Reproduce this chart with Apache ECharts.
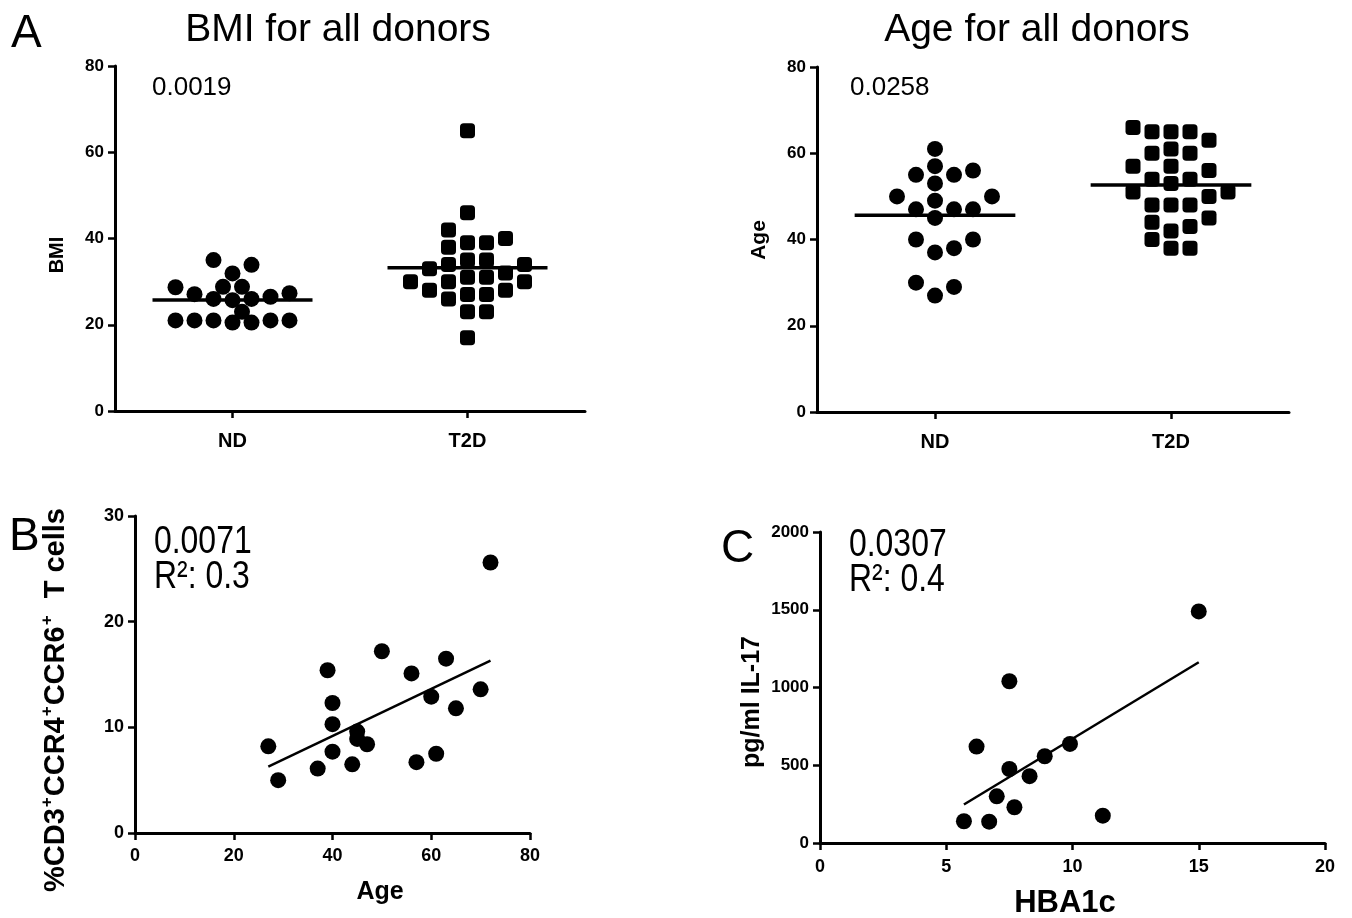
<!DOCTYPE html>
<html>
<head>
<meta charset="utf-8">
<script src="https://cdn.jsdelivr.net/npm/echarts@6/dist/echarts.min.js"></script>
<style>html,body{margin:0;padding:0;background:#fff}#chart{width:1352px;height:918px}</style>
</head>
<body>
<div id="chart"></div>
<script>
// ---------------- data ----------------
const groups = ['ND', 'T2D'];
const bmiND  = [20.5, 20.5, 21, 21, 21, 21, 21, 23, 25.7, 26, 26, 26.5, 27.1, 27.3, 28.7, 28.8, 28.8, 31.9, 33.9, 35];
const bmiT2D = [17, 23, 23, 26, 27, 27, 28, 28, 30, 30, 30, 31, 31, 32, 33, 34, 34, 35, 35, 38, 39, 39, 40, 42, 46, 65];
const ageND  = [27, 29, 30, 37, 38, 40, 40, 45, 47, 47, 47, 49, 50, 50, 53, 55, 55, 56, 57, 61];
const ageT2D = [38, 38, 40, 42, 43, 44, 45, 48, 48, 48, 50, 51, 51, 53, 54, 54, 56, 57, 57, 60, 60, 61, 63, 65, 65, 65, 66];
// panel B
const ageB  = [27, 29, 37, 39, 40, 40, 40, 44, 45, 45, 47, 50, 56, 57, 60, 61, 63, 65, 70, 72];
const cellsB = [8.2, 5.0, 6.1, 15.4, 12.3, 10.3, 7.7, 6.5, 9.6, 8.9, 8.4, 17.2, 15.1, 6.7, 12.9, 7.5, 16.5, 11.8, 13.6, 25.6];
// panel C
const hba1cC = [5.7, 6.2, 6.7, 7.0, 7.5, 7.5, 7.7, 8.3, 8.9, 9.9, 11.2, 15.0];
const il17C  = [140, 620, 137, 300, 1040, 476, 230, 430, 558, 637, 176, 1489];
// annotations
const pBMI = '0.0019', pAge = '0.0258', pB = '0.0071', r2B = '0.3', pC = '0.0307', r2C = '0.4';

// ---------------- layout ----------------
const G = [
  {left: 115, top: 66,  width: 470, height: 345},
  {left: 817, top: 67,  width: 472, height: 345},
  {left: 135, top: 516, width: 395, height: 317},
  {left: 820, top: 532, width: 505, height: 311}
];
const BLACK = '#000';
const SANS = "'Liberation Sans',Arial,sans-serif";

// column-scatter (beeswarm) layout computed from the values
const STEPS = [0, 1, -1, 2, -2, 3, -3, 0.5, -0.5, 1.5, -1.5, 2.5, -2.5, 3.5, -3.5, 4, -4, 4.5, -4.5, 5, -5];
function swarm(values, center, g, yMax, size, spacing) {
  const pyu = g.height / yMax;      // px per y unit
  const pxu = g.width / 2;          // px per x unit (x range 0.5..2.5)
  const thr = size - 2;
  const sorted = values.slice().sort((a, b) => a - b);
  const placed = [];
  const out = [];
  sorted.forEach(v => {
    const yp = v * pyu;
    for (const s of STEPS) {
      const dx = s * spacing;
      if (placed.every(p => Math.hypot(p[0] - dx, p[1] - yp) >= thr)) {
        placed.push([dx, yp]); out.push([center + dx / pxu, v]); break;
      }
    }
  });
  return out;
}
const mean = a => a.reduce((s, v) => s + v, 0) / a.length;
function fit(xs, ys) {
  const mx = mean(xs), my = mean(ys);
  let sxy = 0, sxx = 0;
  xs.forEach((x, i) => { sxy += (x - mx) * (ys[i] - my); sxx += (x - mx) * (x - mx); });
  const b = sxy / sxx, a = my - b * mx;
  const x0 = Math.min(...xs), x1 = Math.max(...xs);
  return [[x0, a + b * x0], [x1, a + b * x1]];
}

function axisCommon(fs, margin) {
  return {
    axisLine: {show: true, onZero: false, lineStyle: {color: BLACK, width: 3}},
    axisTick: {show: true, length: 7, lineStyle: {color: BLACK, width: 2.5}},
    axisLabel: {color: BLACK, fontFamily: SANS, fontWeight: 'bold', fontSize: fs, margin: margin,
      formatter: v => String(v)},
    splitLine: {show: false}
  };
}
function catX(gi) {
  return Object.assign(axisCommon(20, 20), {
    type: 'value', gridIndex: gi, min: 0.5, max: 2.5,
    axisTick: {show: true, length: 7, lineStyle: {color: BLACK, width: 2.5}, customValues: [1, 2]},
    axisLabel: {color: BLACK, fontFamily: SANS, fontWeight: 'bold', fontSize: 20, margin: 20,
      customValues: [1, 2], formatter: v => groups[Math.round(v) - 1] || ''}
  });
}
function valAxis(gi, min, max, interval, fs, margin) {
  return Object.assign(axisCommon(fs, margin), {type: 'value', gridIndex: gi, min, max, interval});
}

const HALF = 80 / 235;   // half-width of mean bar in x units
function meanLine(vals, center, xi) {
  const m = mean(vals);
  return {type: 'line', xAxisIndex: xi, yAxisIndex: xi, data: [[center - HALF, m], [center + HALF, m]],
    showSymbol: false, symbol: 'none', lineStyle: {color: BLACK, width: 3.5}, z: 5, silent: true};
}
function scat(data, xi, symbol, size) {
  return {type: 'scatter', xAxisIndex: xi, yAxisIndex: xi, data, symbol, symbolSize: size,
    itemStyle: {color: BLACK, opacity: 1}, z: 3, silent: true};
}

function txt(x, y, text, font, align, extra) {
  return Object.assign({type: 'text', x, y, silent: true,
    style: {text, font, fill: BLACK, textAlign: align || 'left', textVerticalAlign: 'middle'}}, extra || {});
}

const option = {
  animation: false,
  backgroundColor: '#fff',
  grid: G.map(g => Object.assign({containLabel: false}, g)),
  xAxis: [
    catX(0), catX(1),
    valAxis(2, 0, 80, 20, 18, 14),
    valAxis(3, 0, 20, 5, 18, 15)
  ],
  yAxis: [
    valAxis(0, 0, 80, 20, 17, 11),
    valAxis(1, 0, 80, 20, 17, 11),
    valAxis(2, 0, 30, 10, 18, 11),
    valAxis(3, 0, 2000, 500, 17, 11)
  ],
  series: [
    scat(swarm(bmiND, 1, G[0], 80, 16, 19), 0, 'circle', 16),
    scat(swarm(bmiT2D, 2, G[0], 80, 15, 19), 0, 'roundRect', 15),
    meanLine(bmiND, 1, 0), meanLine(bmiT2D, 2, 0),
    scat(swarm(ageND, 1, G[1], 80, 16, 19), 1, 'circle', 16),
    scat(swarm(ageT2D, 2, G[1], 80, 15, 19), 1, 'roundRect', 15),
    meanLine(ageND, 1, 1), meanLine(ageT2D, 2, 1),
    scat(ageB.map((x, i) => [x, cellsB[i]]), 2, 'circle', 16),
    {type: 'line', xAxisIndex: 2, yAxisIndex: 2, data: fit(ageB, cellsB), showSymbol: false, symbol: 'none',
      lineStyle: {color: BLACK, width: 2.5}, z: 4, silent: true},
    scat(hba1cC.map((x, i) => [x, il17C[i]]), 3, 'circle', 16),
    {type: 'line', xAxisIndex: 3, yAxisIndex: 3, data: fit(hba1cC, il17C), showSymbol: false, symbol: 'none',
      lineStyle: {color: BLACK, width: 2.5}, z: 4, silent: true}
  ],
  graphic: [
    txt(11, 34, 'A', '46px ' + SANS),
    txt(9, 537, 'B', '46px ' + SANS),
    txt(721, 549, 'C', '46px ' + SANS),
    txt(338, 30, 'BMI for all donors', '39px ' + SANS, 'center'),
    txt(1037, 30, 'Age for all donors', '39px ' + SANS, 'center'),
    txt(152, 88, pBMI, '26px ' + SANS),
    txt(850, 88, pAge, '26px ' + SANS),
    txt(154, 543, pB, '38px ' + SANS, 'left', {scaleX: 0.84}),
    txt(154, 578, 'R\u00B2: ' + r2B, '38px ' + SANS, 'left', {scaleX: 0.84}),
    txt(849, 546, pC, '38px ' + SANS, 'left', {scaleX: 0.84}),
    txt(849, 581, 'R\u00B2: ' + r2C, '38px ' + SANS, 'left', {scaleX: 0.84}),
    // axis titles
    txt(57, 255, 'BMI', 'bold 20px ' + SANS, 'center', {rotation: Math.PI / 2}),
    txt(759, 240, 'Age', 'bold 21px ' + SANS, 'center', {rotation: Math.PI / 2}),
    {type: 'text', x: 56, y: 700, rotation: Math.PI / 2, silent: true,
      style: {text: '{n|%CD3}{s|+}{n|CCR4}{s|+}{n|CCR6}{s|+}{n|  T cells}', fill: BLACK,
        textAlign: 'center', textVerticalAlign: 'middle',
        rich: {
          n: {fontFamily: SANS, fontWeight: 'bold', fontSize: 29, lineHeight: 34, fill: BLACK},
          s: {fontFamily: SANS, fontWeight: 'bold', fontSize: 17, lineHeight: 34, verticalAlign: 'top', fill: BLACK, padding: [0, 1, 14, 1]}
        }}},
    txt(752, 702, 'pg/ml IL-17', 'bold 25px ' + SANS, 'center', {rotation: Math.PI / 2}),
    txt(380, 892, 'Age', 'bold 25px ' + SANS, 'center'),
    txt(1065, 903, 'HBA1c', 'bold 31px ' + SANS, 'center')
  ]
};
echarts.init(document.getElementById('chart'), null, {renderer: 'canvas'}).setOption(option);
</script>
</body>
</html>
